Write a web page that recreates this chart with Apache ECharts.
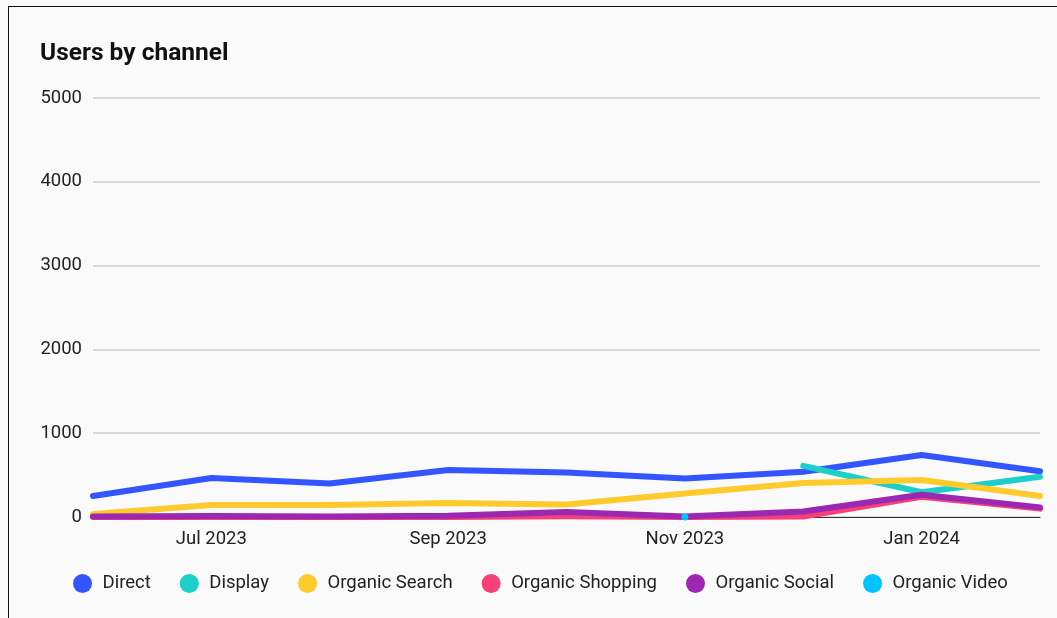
<!DOCTYPE html>
<html><head><meta charset="utf-8">
<script src="https://cdn.jsdelivr.net/npm/echarts@6/dist/echarts.min.js"></script>
<style>
html,body{margin:0;padding:0;width:1057px;height:618px;overflow:hidden;background:#fafafa;}
#card{position:absolute;left:8px;top:6px;width:1200px;height:700px;border-left:1.5px solid #111;border-top:1.5px solid #111;background:#fafafa;}
#c{position:absolute;left:0;top:0;width:1057px;height:618px;}
</style></head><body>
<div id="card"></div>
<div id="c"></div>
<script>
const months = ['Jun 2023','Jul 2023','Aug 2023','Sep 2023','Oct 2023','Nov 2023','Dec 2023','Jan 2024','Feb 2024'];
const yTicks = [0,1000,2000,3000,4000,5000];
const direct = [250,465,400,560,530,460,540,740,545];
const display = [null,null,null,null,null,null,610,295,480];
const organicSearch = [36,143,143,167,150,280,405,441,250];
const organicShopping = [0,0,0,0,10,0,5,240,100];
const organicSocial = [5,12,5,15,60,5,65,265,115];
const organicVideo = [null,null,null,null,null,0,null,null,null];

const names = ['Direct','Display','Organic Search','Organic Shopping','Organic Social','Organic Video'];
const colors = ['#3355ff','#1ccfc9','#ffca2b','#f5407a','#9c27b0','#00c3ff'];
const dataSets = [direct, display, organicSearch, organicShopping, organicSocial, organicVideo];

const chart = echarts.init(document.getElementById('c'));
chart.setOption({
  backgroundColor: 'transparent',
  title: {text:'Users by channel', left:40, top:41, padding:0, textStyle:{fontFamily:'Roboto', fontSize:24.5, fontWeight:'bold', color:'#111'}},
  grid: {left:93, right:17, top:98, bottom:101},
  xAxis: {type:'category', data:months, boundaryGap:false,
    axisLine:{lineStyle:{color:'#333', width:1}}, axisTick:{show:false},
    axisLabel:{interval:function(i){return i%2===1;}, fontFamily:'Roboto', fontSize:18.5, color:'#222', margin:13}},
  yAxis: {type:'value', min:yTicks[0], max:yTicks[yTicks.length-1], interval:1000,
    axisLine:{show:false}, axisTick:{show:false},
    axisLabel:{fontFamily:'Roboto', fontSize:18.5, color:'#222', margin:11, formatter:function(v){return String(v);}},
    splitLine:{lineStyle:{color:'#cccccc', width:1.5}}},
  legend: {top:574, left:73, padding:0, icon:'circle', itemWidth:30, itemHeight:19, itemGap:29,
    textStyle:{fontFamily:'Roboto', fontSize:18.5, color:'#222'}, data:names},
  series: names.map((n,i)=>({
    name:n, type:'line', data:dataSets[i], color:colors[i],
    showSymbol: n==='Organic Video', symbol:'circle', symbolSize:7,
    lineStyle:{width:6, cap:'round', join:'round'}, connectNulls:false, animation:false
  }))
});
</script>
</body></html>
